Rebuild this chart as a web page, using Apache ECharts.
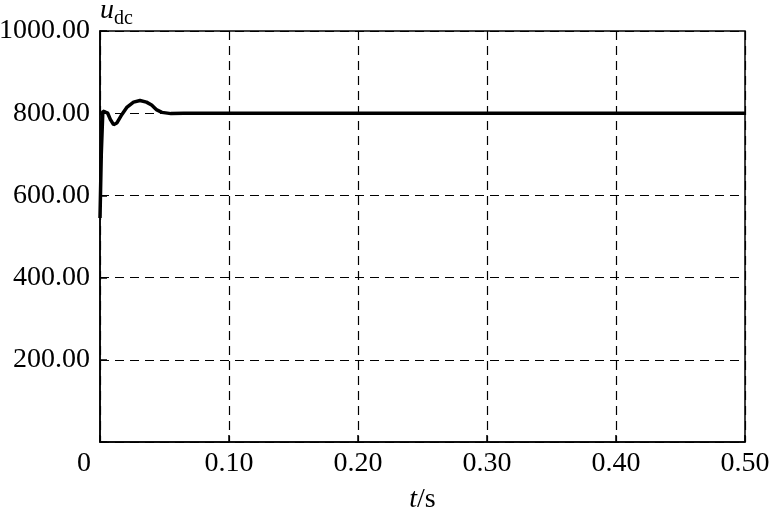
<!DOCTYPE html>
<html><head><meta charset="utf-8">
<script src="https://cdn.jsdelivr.net/npm/echarts@6/dist/echarts.min.js"></script>
<style>html,body{margin:0;padding:0;background:#fff}#c{width:773px;height:520px}</style>
</head><body><div id="c"></div>
<script>
// time (s) and DC-link voltage u_dc (V)
const times  = [0, 0.001, 0.0022, 0.004, 0.006, 0.008, 0.0105, 0.013, 0.017, 0.021, 0.026, 0.031, 0.036, 0.040, 0.044, 0.048, 0.055, 0.065, 0.5];
const udc    = [545, 700, 805, 803, 800, 785, 772, 776, 797, 815, 827, 831, 827, 820, 808, 802, 799, 800, 800];
const xTicks = [0, 0.10, 0.20, 0.30, 0.40, 0.50];
const yTicks = [0, 200, 400, 600, 800, 1000];

const data = times.map((t, i) => [t, udc[i]]);
const font = 'Liberation Serif, Times New Roman, serif';
const chart = echarts.init(document.getElementById('c'), null, {renderer: 'canvas'});
chart.setOption({
  animation: false,
  backgroundColor: '#fff',
  grid: {left: 100, right: 28, top: 31, bottom: 78, show: true, borderColor: '#000', borderWidth: 1.5,
         containLabel: false, outerBoundsMode: 'none'},
  xAxis: {
    type: 'value', min: xTicks[0], max: xTicks[xTicks.length - 1], interval: 0.1,
    name: '{i|t}{n|/s}', nameLocation: 'middle', nameGap: 44,
    nameTextStyle: {rich: {i: {fontFamily: font, fontStyle: 'italic', fontSize: 28, color: '#000'}, n: {fontFamily: font, fontSize: 28, color: '#000'}}},
    axisLine: {lineStyle: {color: '#000', width: 1.5}},
    axisTick: {inside: true, length: 7, lineStyle: {color: '#000', width: 1.5}},
    splitLine: {show: true, lineStyle: {color: '#000', width: 1.2, type: [9, 6]}},
    axisLabel: {
      margin: 8, color: '#000', fontFamily: font, fontSize: 28,
      formatter: v => Math.abs(v) < 1e-9 ? '{o|0}' : v.toFixed(2),
      rich: {o: {fontFamily: font, fontSize: 28, color: '#000', padding: [0, 32, 0, 0]}}
    }
  },
  yAxis: {
    type: 'value', min: yTicks[0], max: yTicks[yTicks.length - 1], interval: 200,
    name: '{i|u}{s|dc}', nameLocation: 'end', nameGap: 6,
    nameTextStyle: {align: 'left', verticalAlign: 'bottom', padding: [0, 0, 0, 0],
      rich: {i: {fontFamily: font, fontStyle: 'italic', fontSize: 28, color: '#000', verticalAlign: 'bottom'},
             s: {fontFamily: font, fontSize: 20, color: '#000', verticalAlign: 'bottom', padding: [0, 0, -4, 0]}}},
    axisLine: {show: true, lineStyle: {color: '#000', width: 1.5}},
    axisTick: {show: true, inside: true, length: 7, lineStyle: {color: '#000', width: 1.5}},
    splitLine: {show: true, lineStyle: {color: '#000', width: 1.2, type: [9, 6]}},
    axisLabel: {
      margin: 10, color: '#000', fontFamily: font, fontSize: 28,
      formatter: v => v === 0 ? '' : v.toFixed(2)
    }
  },
  series: [{
    type: 'line', data: data, showSymbol: false, symbol: 'none',
    lineStyle: {color: '#000', width: 3.5}, clip: true
  }]
});
</script></body></html>
